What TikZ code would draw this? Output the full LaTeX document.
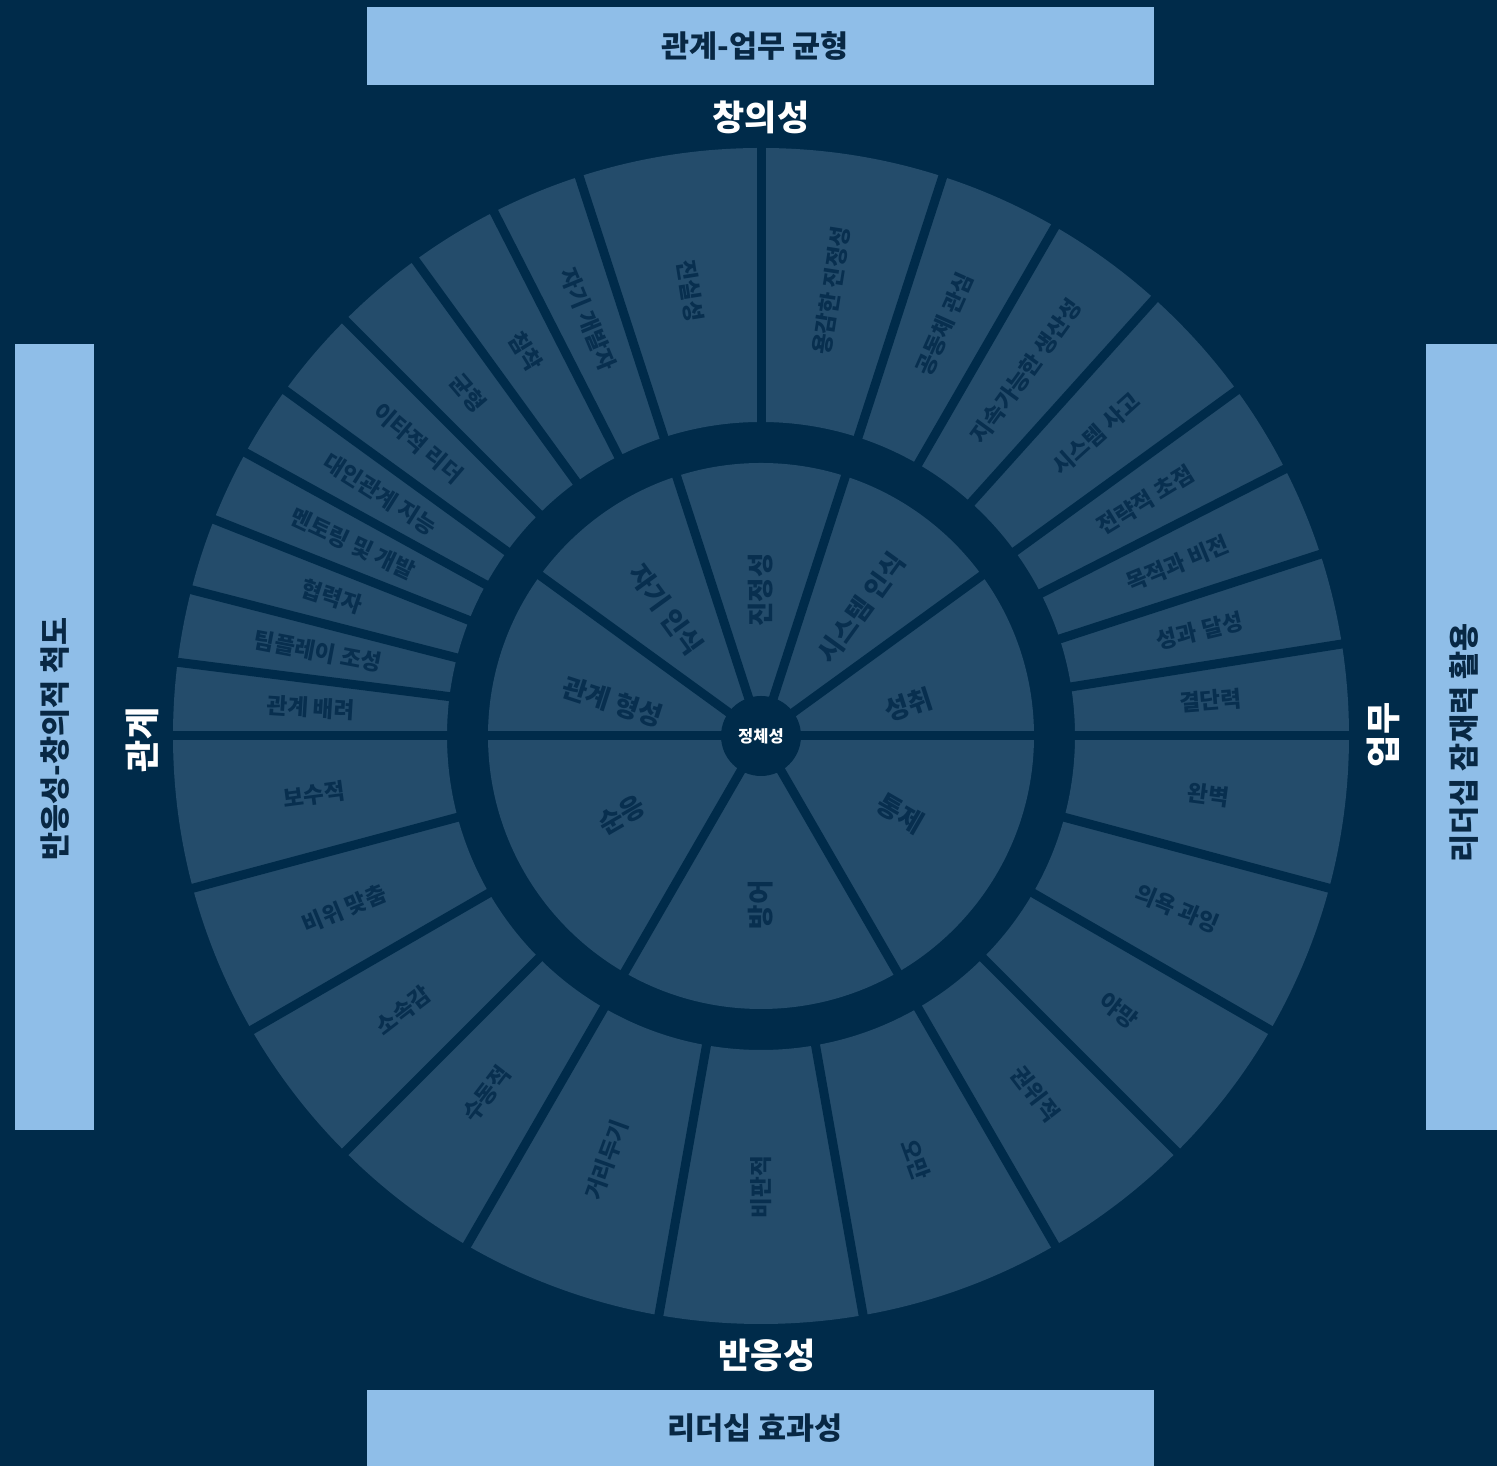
\documentclass[tikz,border=0pt]{standalone}
\usepackage{fontspec}
\setmainfont{Noto Sans CJK KR}
\definecolor{bg}{RGB}{0,43,74}
\definecolor{seg}{RGB}{36,76,107}
\definecolor{segtxt}{RGB}{8,47,79}
\definecolor{boxc}{RGB}{143,190,232}
\definecolor{boxtxt}{RGB}{8,40,68}
\begin{document}
\begin{tikzpicture}[x=1pt,y=1pt,
  outerlbl/.style={text=segtxt, font=\fontsize{22.5}{22.5}\selectfont\bfseries, inner sep=0pt},
  innerlbl/.style={text=segtxt, font=\fontsize{26.5}{26.5}\selectfont\bfseries, inner sep=0pt},
  axislbl/.style={text=white, font=\fontsize{35}{35}\selectfont\bfseries, inner sep=0pt},
  scalebox/.style={fill=boxc, draw=none},
  boxlbl/.style={text=boxtxt, font=\fontsize{30.5}{30.5}\selectfont\bfseries, inner sep=0pt},
  divider/.style={draw=bg, line width=9pt},
  hub/.style={circle, fill=bg, minimum size=80pt, inner sep=0pt, text=white, font=\fontsize{16.5}{16.5}\selectfont\bfseries}]
\fill[bg] (0,0) rectangle (1497,1466);
\useasboundingbox (0,0) rectangle (1497,1466);
\coordinate (C) at (761,730);

% scale boxes
\fill[scalebox] (367,1381) rectangle (1154,1459);
\node[boxlbl] (ttop) at (755,1420) {관계-업무 균형};
\fill[scalebox] (367,0) rectangle (1154,76);
\node[boxlbl] (tbot) at (755,38) {리더십 효과성};
\fill[scalebox] (15,336) rectangle (94,1122);
\node[boxlbl, rotate=90] (tleft) at (55,727) {반응성-창의적 척도};
\fill[scalebox] (1426,336) rectangle (1497,1122);
\node[boxlbl, rotate=90] (tright) at (1464,723) {리더십 잠재력 활용};

% axis labels
\node[axislbl] (creative) at (761,1349) {창의성};
\node[axislbl] (reactive) at (767,111) {반응성};
\node[axislbl, rotate=90] (relation) at (142,726) {관계};
\node[axislbl, rotate=90] (task) at (1383,731) {업무};

% outer ring
\fill[seg, even odd rule] (C) circle[radius=588] (C) circle[radius=314];
\foreach \ang in {0,9,18,27,36,48,60,72,90,108,117,126,135,144,151.2,158.4,165.6,172.8,180,195,210,225,240,260,280,300,315,330,345}
  \draw[divider] ([shift={(\ang:300)}]C) -- ([shift={(\ang:600)}]C);

% inner ring
\fill[seg] (C) circle[radius=273];
\foreach \ang in {0,36,72,108,144,180,240,300}
  \draw[divider] (C) -- ([shift={(\ang:285)}]C);
\node[hub] (core) at (C) {정체성};

% outer labels
\foreach \a/\b/\t/\r [count=\i] in {
  172.8/180/관계 배려/-3.6,
  165.6/172.8/팀플레이 조성/-10.8,
  158.4/165.6/협력자/-18,
  151.2/158.4/멘토링 및 개발/-25.2,
  144/151.2/대인관계 지능/-32.4,
  135/144/이타적 리더/-40.5,
  126/135/균형/-49.5,
  117/126/침착/-58.5,
  108/117/자기 개발자/-67.5,
  90/108/진실성/-81,
  72/90/용감한 진정성/81,
  60/72/공동체 관심/66,
  48/60/지속가능한 생산성/54,
  36/48/시스템 사고/42,
  27/36/전략적 초점/31.5,
  18/27/목적과 비전/22.5,
  9/18/성과 달성/13.5,
  0/9/결단력/4.5,
  -15/0/완벽/-7.5,
  -30/-15/의욕 과잉/-22.5,
  -45/-30/야망/-37.5,
  -60/-45/권위적/-52.5,
  -80/-60/오만/-70,
  -100/-80/비판적/90,
  -120/-100/거리두기/70,
  -135/-120/수동적/52.5,
  -150/-135/소속감/37.5,
  -165/-150/비위 맞춤/22.5,
  -180/-165/보수적/7.5}
  \node[outerlbl, rotate=\r] (o\i) at ([shift={({(\a+\b)/2}:451)}]C) {\t};

% inner labels
\node[innerlbl, rotate=-18] (i1) at ([shift={(167:152)}]C) {관계 형성};
\node[innerlbl, rotate=-54] (i2) at ([shift={(127:158)}]C) {자기 인식};
\node[innerlbl, rotate=90] (i3) at ([shift={(90:146)}]C) {진정성};
\node[innerlbl, rotate=54] (i4) at ([shift={(52:163)}]C) {시스템 인식};
\node[innerlbl, rotate=18] (i5) at ([shift={(12:151)}]C) {성취};
\node[innerlbl, rotate=-30] (i6) at ([shift={(-29:160)}]C) {통제};
\node[innerlbl, rotate=90] (i7) at ([shift={(270:169)}]C) {방어};
\node[innerlbl, rotate=30] (i8) at ([shift={(209.5:160)}]C) {순응};
\end{tikzpicture}
\end{document}
